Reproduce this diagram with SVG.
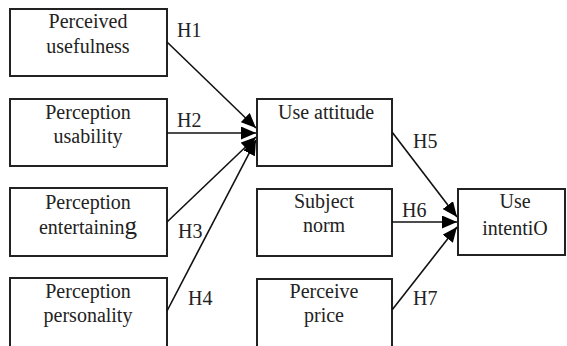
<svg xmlns="http://www.w3.org/2000/svg" width="567" height="346" viewBox="0 0 567 346">
<style>
.box{fill:#fff;stroke:#222;stroke-width:2}
.t{font-family:"Liberation Serif","Times New Roman",serif;font-size:20px;fill:#222;text-anchor:middle}
.h{font-family:"Liberation Serif","Times New Roman",serif;font-size:20px;fill:#222}
.c{stroke:#111;stroke-width:1.6;fill:none;marker-end:url(#ah)}
</style>
<defs>
<marker id="ah" markerUnits="userSpaceOnUse" markerWidth="16" markerHeight="13" refX="15" refY="6.5" orient="auto">
<path d="M0,0 L15,6.5 L0,13 Z" fill="#000"/>
</marker>
</defs>
<rect x="0" y="0" width="567" height="346" fill="#fff"/>
<g id="n1"><rect class="box" x="10" y="9" width="157" height="67"/><text class="t" x="88" y="28">Perceived</text><text class="t" x="88" y="53">usefulness</text></g>
<g id="n2"><rect class="box" x="10" y="99" width="157" height="67"/><text class="t" x="88" y="119">Perception</text><text class="t" x="88" y="143">usability</text></g>
<g id="n3"><rect class="box" x="10" y="188" width="157" height="68"/><text class="t" x="88" y="209">Perception</text><text class="t" x="88" y="234">entertainin<tspan font-size="25">g</tspan></text></g>
<g id="n4"><rect class="box" x="10" y="278" width="157" height="72"/><text class="t" x="88" y="298">Perception</text><text class="t" x="88" y="322">personality</text></g>
<g id="n5"><rect class="box" x="257" y="99" width="135" height="67"/><text class="t" x="326" y="119">Use attitude</text></g>
<g id="n6"><rect class="box" x="257" y="189" width="135" height="67"/><text class="t" x="324" y="208">Subject</text><text class="t" x="324" y="232">norm</text></g>
<g id="n7"><rect class="box" x="257" y="279" width="135" height="71"/><text class="t" x="324" y="298">Perceive</text><text class="t" x="324" y="322">price</text></g>
<g id="n8"><rect class="box" x="458" y="189" width="107" height="66"/><text class="t" x="515" y="208">Use</text><text class="t" x="515" y="235">intentiO</text></g>
<g id="connectors">
<line class="c" x1="167" y1="42" x2="256" y2="128"/>
<line class="c" x1="167" y1="133" x2="256" y2="133"/>
<line class="c" x1="167" y1="222" x2="256" y2="137"/>
<line class="c" x1="167" y1="311" x2="256" y2="140"/>
<line class="c" x1="392" y1="132" x2="457" y2="217"/>
<line class="c" x1="392" y1="222" x2="457" y2="222"/>
<line class="c" x1="392" y1="310" x2="457" y2="227"/>
<text class="h" x="177" y="37">H1</text>
<text class="h" x="177" y="127">H2</text>
<text class="h" x="178" y="238">H3</text>
<text class="h" x="188" y="305">H4</text>
<text class="h" x="413" y="148">H5</text>
<text class="h" x="402" y="217">H6</text>
<text class="h" x="413" y="305">H7</text>
</g>
</svg>
